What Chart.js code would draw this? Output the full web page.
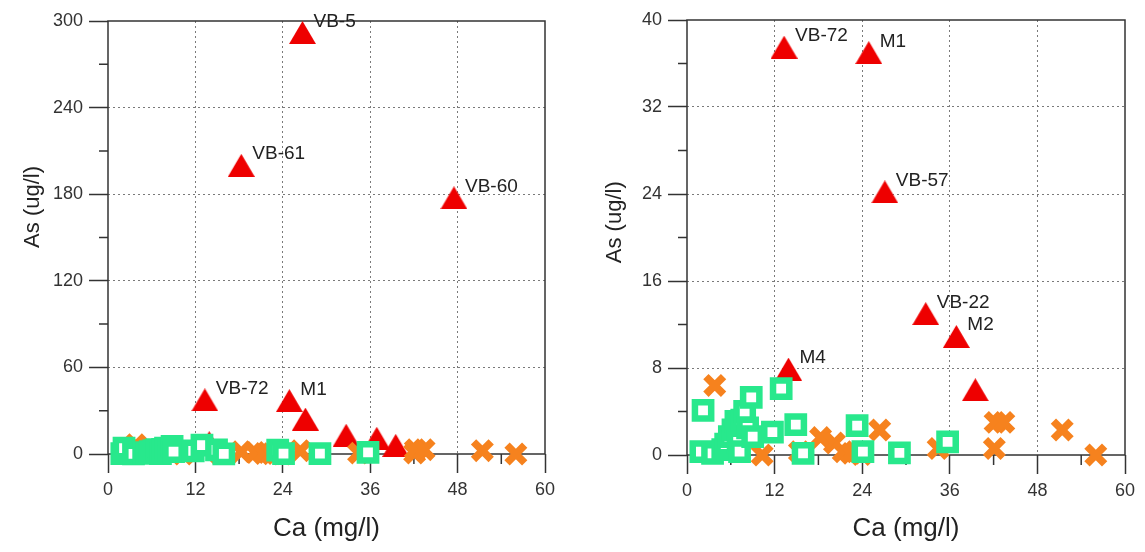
<!DOCTYPE html>
<html>
<head>
<meta charset="utf-8">
<script src="https://cdn.jsdelivr.net/npm/chart.js@4.4.1/dist/chart.umd.min.js"></script>
<style>
  html, body { margin: 0; padding: 0; background: #fff; }
  #wrap { position: relative; width: 1145px; height: 552px; }
  #leftChart { position: absolute; left: 0; top: 0; }
  #rightChart { position: absolute; left: 565px; top: 0; }
</style>
</head>
<body>
<div id="wrap">
  <canvas id="leftChart" width="565" height="552"></canvas>
  <canvas id="rightChart" width="580" height="552"></canvas>
</div>
<script>
// --- data ---
const caMinor = [6, 18, 30, 42, 54];
const asLeftMinor = [30, 90, 150, 210, 270];
const asRightMinor = [4, 12, 20, 28, 36];

// red triangles (named wells)
const redNames = ['VB-5', 'VB-61', 'VB-60', 'VB-72', 'M1', 'VB-57', 'VB-22', 'M2', 'M4', ''];
const redCa = [26.7, 18.3, 47.5, 13.3, 24.9, 27.1, 32.7, 36.9, 13.9, 39.5];
const redAs = [292, 200, 177.5, 37.5, 37, 24.2, 13, 10.9, 7.9, 6];
const leftNamesShown = ['VB-5', 'VB-61', 'VB-60', 'VB-72', 'M1'];
const rightNamesShown = ['VB-72', 'M1', 'VB-57', 'VB-22', 'M2', 'M4'];

// orange crosses
const orangeCa = [3.8, 10.3, 15.4, 18.3, 20.2, 21.4, 22.5, 23.9, 26.4, 34.4, 42.1, 42.2, 43.4, 51.4, 56];
const orangeAs = [6.4, 0, 0.3, 1.6, 1.1, 0.3, 0.15, 0.05, 2.3, 0.6, 0.6, 3.0, 3.0, 2.3, 0];

// green hollow squares
const greenCa = [1.9, 2.2, 3.5, 4.9, 5.3, 5.8, 6.3, 6.7, 7.0, 7.2, 7.5, 7.9, 8.3, 8.8, 9.0, 11.7, 12.9, 14.9, 15.9, 23.3, 24.1, 29.1, 35.7];
const greenAs = [0.3, 4.1, 0.15, 0.5, 1.0, 1.7, 2.3, 3.1, 1.2, 0.3, 3.2, 4.0, 2.5, 5.3, 1.7, 2.1, 6.1, 2.8, 0.15, 2.7, 0.3, 0.2, 1.2];

const RED = 'rgb(238, 0, 0)';
const ORANGE = 'rgb(246, 130, 30)';
const GREEN = 'rgb(40, 232, 140)';
const AXIS = '#333';
const FONT = "'Liberation Sans', Arial, sans-serif";

const toPoints = (xs, ys) => xs.map((v, i) => ({ x: v, y: ys[i] }));

// triangle marker centred on its bounding box
function triangleMarker(w, h, color) {
    const c = document.createElement('canvas');
    c.width = w;
    c.height = h;
    const g = c.getContext('2d');
    g.fillStyle = color;
    g.beginPath();
    g.moveTo(0, h);
    g.lineTo(w / 2, 0);
    g.lineTo(w, h);
    g.closePath();
    g.fill();
    return c;
}
const triImg = triangleMarker(27, 23, RED);

// box frame + short minor ticks, drawn under the markers
const frameTicks = {
    id: 'frameTicks',
    beforeDatasetsDraw(chart, args, opts) {
        const { ctx, chartArea: a, scales: { x, y } } = chart;
        ctx.save();
        ctx.strokeStyle = AXIS;
        ctx.lineWidth = 1.5;
        ctx.strokeRect(a.left, a.top, a.right - a.left, a.bottom - a.top);
        ctx.beginPath();
        opts.xMinor.forEach(v => {
            const px = x.getPixelForValue(v);
            ctx.moveTo(px, a.bottom);
            ctx.lineTo(px, a.bottom + 10);
        });
        opts.yMinor.forEach(v => {
            const py = y.getPixelForValue(v);
            ctx.moveTo(a.left, py);
            ctx.lineTo(a.left - 9, py);
        });
        ctx.stroke();
        ctx.restore();
    }
};

// well names next to the red triangles
const pointNames = {
    id: 'pointNames',
    afterDatasetsDraw(chart, args, opts) {
        const meta = chart.getDatasetMeta(2);
        const { ctx } = chart;
        ctx.save();
        ctx.font = '19px ' + FONT;
        ctx.fillStyle = '#222';
        ctx.textAlign = 'left';
        ctx.textBaseline = 'alphabetic';
        redNames.forEach((name, i) => {
            if (!opts.show.includes(name)) return;
            const pt = meta.data[i];
            ctx.fillText(name, pt.x + 11, pt.y - 6);
        });
        ctx.restore();
    }
};

function buildChart(id, cfg) {
    const gridColor = ctx => {
        const v = ctx.tick ? ctx.tick.value : null;
        return (v === 0 || v === ctx.scale.max) ? 'rgba(0,0,0,0)' : '#7a7a7a';
    };
    return new Chart(document.getElementById(id), {
        type: 'scatter',
        data: {
            datasets: [
                {
                    label: 'green',
                    data: toPoints(greenCa, greenAs),
                    pointStyle: 'rect',
                    pointRadius: 11.5,
                    borderWidth: 6.5,
                    borderColor: GREEN,
                    backgroundColor: '#fff',
                    clip: false
                },
                {
                    label: 'orange',
                    data: toPoints(orangeCa, orangeAs),
                    pointStyle: 'crossRot',
                    pointRadius: 12.5,
                    borderWidth: 7.5,
                    borderColor: ORANGE,
                    backgroundColor: ORANGE,
                    clip: false
                },
                {
                    label: 'red',
                    data: toPoints(redCa, redAs),
                    pointStyle: triImg,
                    pointRadius: 13,
                    clip: false
                }
            ]
        },
        options: {
            responsive: false,
            animation: false,
            events: [],
            layout: { padding: { left: 0, top: cfg.padTop, right: 19, bottom: 0 } },
            plugins: {
                legend: { display: false },
                tooltip: { enabled: false },
                frameTicks: { xMinor: caMinor, yMinor: cfg.yMinor },
                pointNames: { show: cfg.names }
            },
            scales: {
                x: {
                    type: 'linear',
                    min: 0,
                    max: 60,
                    afterFit: s => { s.height = cfg.xHeight; },
                    ticks: { stepSize: 12, color: AXIS, padding: 6, font: { family: FONT, size: 18 } },
                    grid: { color: gridColor, lineWidth: 1, tickLength: 19, tickColor: AXIS, tickWidth: 1.5 },
                    border: { display: false, dash: [2, 3] },
                    title: {
                        display: true,
                        text: 'Ca (mg/l)',
                        color: '#222',
                        font: { family: FONT, size: 26 },
                        padding: { top: 0, bottom: 8 }
                    }
                },
                y: {
                    type: 'linear',
                    min: 0,
                    max: cfg.yMax,
                    afterFit: s => { s.width = cfg.yWidth; },
                    ticks: { stepSize: cfg.yStep, color: AXIS, padding: 6, font: { family: FONT, size: 18 } },
                    grid: { color: gridColor, lineWidth: 1, tickLength: 19, tickColor: AXIS, tickWidth: 1.5 },
                    border: { display: false, dash: [2, 3] },
                    title: {
                        display: true,
                        // leading spaces push the centred title up the axis, as in the original
                        text: ' '.repeat(cfg.titleShift) + 'As (ug/l)',
                        color: '#222',
                        font: { family: FONT, size: 22 },
                        padding: { top: cfg.titlePad, bottom: 0 }
                    }
                }
            }
        },
        plugins: [frameTicks, pointNames]
    });
}

buildChart('leftChart', {
    yMax: 300, yStep: 60, yMinor: asLeftMinor, names: leftNamesShown,
    yWidth: 108, xHeight: 98, padTop: 21, titlePad: 20, titleShift: 10
});
buildChart('rightChart', {
    yMax: 40, yStep: 8, yMinor: asRightMinor, names: rightNamesShown,
    yWidth: 122, xHeight: 97, padTop: 19, titlePad: 37, titleShift: 5
});
</script>
</body>
</html>
